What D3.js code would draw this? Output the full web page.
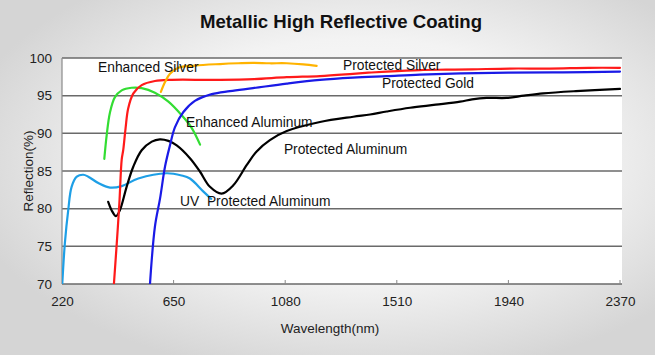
<!DOCTYPE html>
<html><head><meta charset="utf-8">
<script src="https://cdn.jsdelivr.net/npm/d3@7"></script>
<style>html,body{margin:0;padding:0;overflow:hidden;}svg{display:block;font-family:"Liberation Sans",Arial,sans-serif;}</style>
</head><body>
<script>
const xTicks = [220, 650, 1080, 1510, 1940, 2370];
const yTicks = [70, 75, 80, 85, 90, 95, 100];

const enhancedAluminum = [[383,86.6],[392,89.7],[405,92.8],[424,94.8],[450,95.7],[488,96.05],[527,96.0],[578,95.4],[630,94.2],[681,92.4],[720,90.7],[752,88.5]];
const protectedSilver = [[420,70],[431,75.4],[441,80.7],[450,86.5],[456,87.8],[465,90.7],[475,93.3],[495,95.3],[527,96.4],[578,96.95],[643,97.1],[771,97.1],[829,97.1],[960,97.2],[1086,97.45],[1214,97.6],[1341,97.9],[1400,98.05],[1471,98.2],[1599,98.4],[1700,98.45],[1800,98.5],[1946,98.6],[2100,98.6],[2250,98.7],[2370,98.7]];
const enhancedSilver = [[601,95.5],[617,96.8],[636,97.9],[668,98.7],[732,99.0],[829,99.2],[900,99.3],[956,99.35],[1020,99.3],[1086,99.3],[1150,99.15],[1201,98.95]];
const protectedGold = [[559,70],[578,77.6],[598,81.4],[617,85.6],[636,88.4],[655,90.8],[687,92.8],[732,94.3],[797,95.2],[867,95.6],[956,96.0],[1086,96.6],[1214,97.1],[1341,97.4],[1471,97.6],[1599,97.8],[1760,97.95],[1940,98.05],[2150,98.1],[2370,98.2]];
const protectedAluminum = [[398,80.9],[411,79.8],[428,79.0],[443,79.8],[469,82.9],[495,85.6],[527,87.75],[566,88.9],[597,89.2],[630,89.0],[662,88.4],[713,86.7],[752,84.9],[790,82.9],[835,82.0],[880,83.1],[932,85.8],[970,87.6],[1021,89.1],[1086,90.3],[1214,91.5],[1342,92.2],[1407,92.5],[1471,92.9],[1561,93.4],[1660,93.8],[1754,94.2],[1800,94.5],[1856,94.7],[1933,94.7],[2000,95.0],[2074,95.3],[2200,95.6],[2370,95.9]];
const uvProtectedAluminum = [[221,70],[231,75.4],[244,79.8],[257,82.9],[277,84.25],[302,84.5],[321,84.25],[360,83.4],[405,82.8],[450,83.0],[514,84.0],[623,84.7],[681,84.4],[713,84.0],[764,82.3],[795,81.3]];

const series = [
  {data: enhancedAluminum, color: "#33dd33"},
  {data: uvProtectedAluminum, color: "#1e9fe6"},
  {data: protectedAluminum, color: "#000000"},
  {data: protectedGold, color: "#1a1ae6"},
  {data: protectedSilver, color: "#ff1a1a"},
  {data: enhancedSilver, color: "#ffb300"}
];

const labels = [
  {text: "Enhanced Silver", wl: 359, r: 98.1},
  {text: "Protected Silver", wl: 1303, r: 98.4},
  {text: "Protected Gold", wl: 1453, r: 96.0},
  {text: "Enhanced Aluminum", wl: 698, r: 90.9},
  {text: "Protected Aluminum", wl: 1075, r: 87.3},
  {text: "UV  Protected Aluminum", wl: 675, r: 80.3}
];

const W = 655, H = 355;
const svg = d3.select("body").append("svg").attr("width", W).attr("height", H);
const defs = svg.append("defs");
const g = defs.append("radialGradient").attr("id","bg").attr("cx","0.55").attr("cy","0.45").attr("r","0.62");
g.append("stop").attr("offset","0").attr("stop-color","#ffffff");
g.append("stop").attr("offset","0.55").attr("stop-color","#f3f3f3");
g.append("stop").attr("offset","1").attr("stop-color","#d5d5d5");
svg.append("rect").attr("width",W).attr("height",H).attr("fill","url(#bg)");

const x = d3.scaleLinear().domain([220, 2370]).range([62, 620]);
const y = d3.scaleLinear().domain([70, 100]).range([284, 58]);
const xRight = 622;

defs.append("clipPath").attr("id","clip").append("rect")
  .attr("x",62).attr("y",50).attr("width",xRight-62).attr("height",284-50);

svg.append("rect").attr("x",62).attr("y",y(100)).attr("width",xRight-62).attr("height",y(70)-y(100)).attr("fill","#ffffff");

// grid
svg.append("g").selectAll("line").data(yTicks).join("line")
  .attr("x1",62).attr("x2",xRight).attr("y1",d=>y(d)).attr("y2",d=>y(d))
  .attr("stroke","#6a6a6a").attr("stroke-width",1.5);
svg.append("line").attr("x1",62).attr("x2",62).attr("y1",y(100)).attr("y2",y(70)).attr("stroke","#8a8a8a").attr("stroke-width",1.2);

// y axis
const yAxis = d3.axisLeft(y).tickValues(yTicks).tickFormat(d3.format("d")).tickSize(0).tickPadding(10);
const ya = svg.append("g").attr("transform","translate(62,0)").call(yAxis);
ya.select(".domain").remove();
ya.selectAll("text").attr("font-size",13.5).attr("fill","#222").attr("font-family","Liberation Sans, Arial, sans-serif");

// x axis
const xAxis = d3.axisBottom(x).tickValues(xTicks).tickFormat(d3.format("d")).tickSize(0).tickPadding(12);
const xa = svg.append("g").attr("transform","translate(0,284)").call(xAxis);
xa.select(".domain").remove();
xa.selectAll("text").attr("font-size",13.5).attr("fill","#222").attr("font-family","Liberation Sans, Arial, sans-serif");
svg.append("g").selectAll("line").data(xTicks.slice(1)).join("line")
  .attr("x1",d=>x(d)).attr("x2",d=>x(d)).attr("y1",280).attr("y2",284)
  .attr("stroke","#888").attr("stroke-width",1);

// curves
const line = d3.line().x(d=>x(d[0])).y(d=>y(d[1])).curve(d3.curveCatmullRom.alpha(0.5));
svg.append("g").attr("clip-path","url(#clip)").selectAll("path").data(series).join("path")
  .attr("d",d=>line(d.data)).attr("fill","none").attr("stroke",d=>d.color).attr("stroke-width",2.2)
  .attr("stroke-linecap","round").attr("stroke-linejoin","round");

// labels
svg.append("g").selectAll("text").data(labels).join("text")
  .attr("x",d=>x(d.wl)).attr("y",d=>y(d.r)).text(d=>d.text)
  .attr("font-size",13.8).attr("fill","#111").attr("xml:space","preserve").style("white-space","pre");

// title & axis titles
svg.append("text").attr("x",341).attr("y",28).attr("text-anchor","middle")
  .attr("font-size",18.6).attr("font-weight","bold").attr("fill","#111").text("Metallic High Reflective Coating");
svg.append("text").attr("x",330).attr("y",333).attr("text-anchor","middle")
  .attr("font-size",13.5).attr("fill","#222").text("Wavelength(nm)");
svg.append("text").attr("transform","translate(33,171) rotate(-90)").attr("text-anchor","middle")
  .attr("font-size",13.5).attr("fill","#222").text("Reflection(%)");
</script>
</body></html>
